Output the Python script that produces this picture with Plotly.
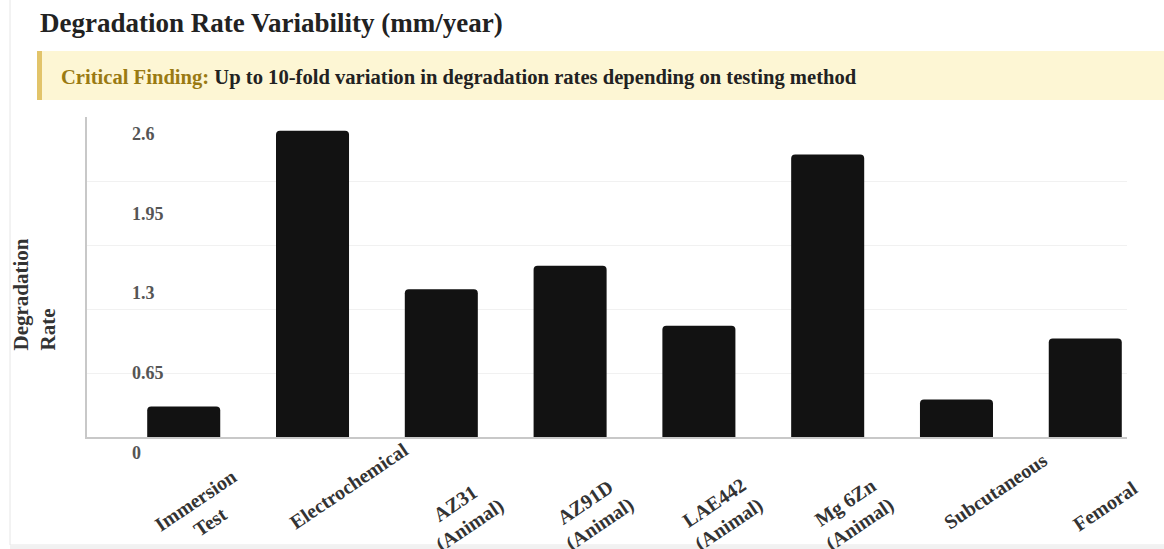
import plotly.graph_objects as go

# ---- data ----
categories = ["Immersion Test", "Electrochemical", "AZ31 (Animal)", "AZ91D (Animal)",
              "LAE442 (Animal)", "Mg 6Zn (Animal)", "Subcutaneous", "Femoral"]
category_labels = ["Immersion<br>Test", "Electrochemical", "AZ31<br>(Animal)", "AZ91D<br>(Animal)",
                   "LAE442<br>(Animal)", "Mg 6Zn<br>(Animal)", "Subcutaneous", "Femoral"]
rates = [0.31, 3.11, 1.50, 1.74, 1.13, 2.87, 0.38, 1.00]
y_ticks = [0, 0.65, 1.3, 1.95, 2.6]
y_tick_text = ["0", "0.65", "1.3", "1.95", "2.6"]

title = "Degradation Rate Variability (mm/year)"
finding_label = "Critical Finding:"
finding_text = "Up to 10-fold variation in degradation rates depending on testing method"
y_title = "Degradation<br>Rate"

# ---- layout geometry (pixels) ----
W, H = 1164, 549
ML, MR, MT, MB = 87, 37, 117, 112
PW, PH = W - ML - MR, H - MT - MB
FONT = "Liberation Serif"

def px_x(x):  # page px -> paper x
    return (x - ML) / PW

def px_y(y):  # page px -> paper y
    return (H - MB - y) / PH

# x tick label placement offsets (dx px from bar centre, centre y px)
label_offsets = [(19, 511), (36, 486), (21, 514), (22, 513), (23, 513), (25, 513), (39, 491), (20, 506)]

fig = go.Figure()
fig.add_trace(go.Bar(
    x=list(range(len(categories))), y=rates, width=0.567,
    marker=dict(color="#121212", cornerradius=4, line=dict(width=0)),
    hovertext=categories, hoverinfo="text+y",
))

annotations = []
for i, (lab, (dx, cy)) in enumerate(zip(category_labels, label_offsets)):
    annotations.append(dict(
        x=i, xref="x", y=px_y(cy), yref="paper", text=lab, showarrow=False,
        xshift=dx, xanchor="center", yanchor="middle", textangle=-34, align="center",
        font=dict(family=FONT, size=20, color="#333333", weight="bold"),
    ))

# y tick labels
for v, t in zip(y_ticks, y_tick_text):
    ypx = 452.7 - v * (79.7 / 0.65)
    annotations.append(dict(
        x=px_x(130), xref="paper", y=px_y(ypx), yref="paper", text=t, showarrow=False,
        xanchor="left", yanchor="middle",
        font=dict(family=FONT, size=18, color="#555555", weight="bold"),
    ))

# y axis title
annotations.append(dict(
    x=px_x(34), xref="paper", y=px_y(294.5), yref="paper", text=y_title, showarrow=False,
    xanchor="center", yanchor="middle", textangle=-90, align="left",
    font=dict(family=FONT, size=21, color="#333333", weight="bold"),
))

# title
annotations.append(dict(
    x=px_x(38), xref="paper", y=px_y(23), yref="paper", text=title, showarrow=False,
    xanchor="left", yanchor="middle",
    font=dict(family=FONT, size=27, color="#222222", weight="bold"),
))

# finding banner text
annotations.append(dict(
    x=px_x(59), xref="paper", y=px_y(77), yref="paper",
    text=f"<span style='color:#9a7a12'>{finding_label}</span> {finding_text}",
    showarrow=False, xanchor="left", yanchor="middle",
    font=dict(family=FONT, size=20.6, color="#222222", weight="bold"),
))

shapes = [
    # card border
    dict(type="rect", xref="paper", yref="paper", x0=px_x(10), x1=px_x(1200), y0=px_y(545), y1=px_y(-20),
         line=dict(color="#e6e6e6", width=1), fillcolor="rgba(0,0,0,0)", layer="below"),
    dict(type="rect", xref="paper", yref="paper", x0=px_x(10), x1=px_x(1200), y0=px_y(552), y1=px_y(546),
         line=dict(width=0), fillcolor="#f1f1f1", layer="below"),
    # banner
    dict(type="rect", xref="paper", yref="paper", x0=px_x(37), x1=px_x(1200), y0=px_y(100), y1=px_y(51),
         line=dict(width=0), fillcolor="#fdf6d4", layer="below"),
    dict(type="rect", xref="paper", yref="paper", x0=px_x(37), x1=px_x(42), y0=px_y(100), y1=px_y(51),
         line=dict(width=0), fillcolor="#e2c46a", layer="below"),
]

fig.update_layout(
    width=W, height=H,
    margin=dict(l=ML, r=MR, t=MT, b=MB, pad=0),
    paper_bgcolor="white", plot_bgcolor="white",
    showlegend=False,
    annotations=annotations, shapes=shapes,
    bargap=0.43,
    xaxis=dict(range=[-0.751, 7.324], showticklabels=False, ticks="", showgrid=False,
               zeroline=False, showline=True, linecolor="#c8c8c8", linewidth=2, fixedrange=True),
    yaxis=dict(range=[0, 3.25], tickvals=y_ticks[1:], showticklabels=False, ticks="",
               showgrid=True, gridcolor="#f1f1f1", gridwidth=1, zeroline=False,
               showline=True, linecolor="#c8c8c8", linewidth=2, fixedrange=True),
)

fig.write_html("out.html", include_plotlyjs=True, config={"displayModeBar": False},
               post_script="document.body.style.margin='0';document.body.style.overflow='hidden';")
